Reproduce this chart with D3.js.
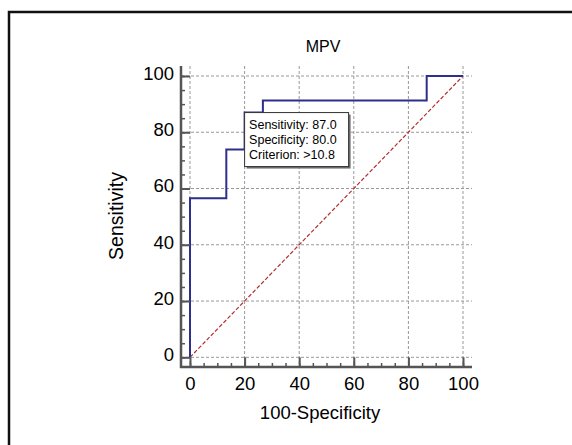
<!DOCTYPE html>
<html>
<head>
<meta charset="utf-8">
<script src="https://cdn.jsdelivr.net/npm/d3@7"></script>
<style>
  body { margin: 0; background: #fff; }
  text { font-family: "Liberation Sans", Arial, sans-serif; fill: #000; }
</style>
</head>
<body>
<svg id="chart"></svg>
<script>
// DATA
let chartTitle = "MPV";
let xLabel = "100-Specificity";
let yLabel = "Sensitivity";
let tickValues = [0, 20, 40, 60, 80, 100];
let minorTickValues = d3.range(0, 101, 5);
// ROC curve vertices (100-specificity, sensitivity)
let rocX = [0, 0, 13.3, 13.3, 20, 20, 26.7, 26.7, 86.7, 86.7, 100];
let rocY = [0, 56.5, 56.5, 73.9, 73.9, 87.0, 87.0, 91.3, 91.3, 100, 100];
let diagonal = [0, 100];
// optimal criterion point and its label
let bestPoint = [20, 87.0];
let bestLabels = ["Sensitivity: 87.0", "Specificity: 80.0", "Criterion: >10.8"];

let width = 572;
let height = 445;

let svg = d3.select("#chart")
  .attr("width", width)
  .attr("height", height);

// outer frame (runs off the right and bottom edges)
svg.append("rect")
  .attr("x", 9).attr("y", 12)
  .attr("width", 640).attr("height", 500)
  .attr("fill", "none")
  .attr("stroke", "#111")
  .attr("stroke-width", 2.5);

let x = d3.scaleLinear().domain([0, 100]).range([190, 463]);
let y = d3.scaleLinear().domain([0, 100]).range([357.3, 76]);

let axisX = 181;   // y axis position
let axisY = 367;   // x axis position
let plotTop = 66;
let plotRight = 472;

// grid
let grid = svg.append("g").attr("class", "grid");
grid.selectAll(".vgrid").data(tickValues).enter()
  .append("line")
  .attr("x1", d => x(d)).attr("x2", d => x(d))
  .attr("y1", plotTop).attr("y2", axisY)
  .attr("stroke", "#999")
  .attr("stroke-width", 1)
  .attr("stroke-dasharray", "3,2");
grid.selectAll(".hgrid").data(tickValues).enter()
  .append("line")
  .attr("x1", axisX).attr("x2", plotRight)
  .attr("y1", d => y(d)).attr("y2", d => y(d))
  .attr("stroke", "#999")
  .attr("stroke-width", 1)
  .attr("stroke-dasharray", "3,2");

// diagonal reference line
svg.append("line")
  .attr("x1", x(diagonal[0])).attr("y1", y(diagonal[0]))
  .attr("x2", x(diagonal[1])).attr("y2", y(diagonal[1]))
  .attr("stroke", "#b03030")
  .attr("stroke-width", 1.2)
  .attr("stroke-dasharray", "4,2");

// ROC curve
let rocPoints = rocX.map((d, i) => [d, rocY[i]]);
svg.append("path")
  .datum(rocPoints)
  .attr("fill", "none")
  .attr("stroke", "#2e2e8c")
  .attr("stroke-width", 2)
  .attr("d", d3.line().x(d => x(d[0])).y(d => y(d[1])));

// minor ticks
let xMinor = d3.axisBottom(x).tickValues(minorTickValues).tickSize(-4).tickFormat("");
let yMinor = d3.axisLeft(y).tickValues(minorTickValues).tickSize(-4).tickFormat("");
svg.append("g").attr("transform", `translate(0,${axisY})`).call(xMinor)
  .call(g => g.select(".domain").remove())
  .selectAll("line").attr("stroke", "#555").attr("stroke-width", 1.5);
svg.append("g").attr("transform", `translate(${axisX},0)`).call(yMinor)
  .call(g => g.select(".domain").remove())
  .selectAll("line").attr("stroke", "#555").attr("stroke-width", 1.5);

// major ticks and labels
let xAxis = d3.axisBottom(x).tickValues(tickValues).tickSize(-(axisY - y(0))).tickPadding(10);
let yAxis = d3.axisLeft(y).tickValues(tickValues).tickSize(-(x(0) - axisX)).tickPadding(7);

let gx = svg.append("g").attr("transform", `translate(0,${axisY})`).call(xAxis);
gx.select(".domain").remove();
gx.selectAll("line").attr("stroke", "#555").attr("stroke-width", 2);
gx.selectAll("text").style("font-size", "18.5px").attr("fill", "#000");

let gy = svg.append("g").attr("transform", `translate(${axisX},0)`).call(yAxis);
gy.select(".domain").remove();
gy.selectAll("line").attr("stroke", "#555").attr("stroke-width", 2);
gy.selectAll("text").style("font-size", "18.5px").attr("fill", "#000").attr("dy", "0.18em");

// axis lines
svg.append("line")
  .attr("x1", axisX).attr("x2", axisX)
  .attr("y1", plotTop).attr("y2", axisY + 1)
  .attr("stroke", "#555").attr("stroke-width", 2.5);
svg.append("line")
  .attr("x1", axisX - 1).attr("x2", plotRight)
  .attr("y1", axisY).attr("y2", axisY)
  .attr("stroke", "#555").attr("stroke-width", 2.5);

// titles
svg.append("text")
  .attr("x", 323).attr("y", 52)
  .attr("text-anchor", "middle")
  .style("font-size", "16px")
  .text(chartTitle);

svg.append("text")
  .attr("x", 320).attr("y", 419)
  .attr("text-anchor", "middle")
  .style("font-size", "18.5px")
  .text(xLabel);

svg.append("text")
  .attr("transform", "translate(123,216) rotate(-90)")
  .attr("text-anchor", "middle")
  .style("font-size", "19.5px")
  .text(yLabel);

// criterion label box anchored at the optimal point
let bx = x(bestPoint[0]);
let by = y(bestPoint[1]);
let boxW = 104;
let boxH = 54;
svg.append("rect")
  .attr("x", bx + 2).attr("y", by + 2)
  .attr("width", boxW).attr("height", boxH)
  .attr("fill", "#6e6e6e");
svg.append("rect")
  .attr("x", bx).attr("y", by)
  .attr("width", boxW).attr("height", boxH)
  .attr("fill", "#fff")
  .attr("stroke", "#333")
  .attr("stroke-width", 1);
svg.append("g").selectAll("text").data(bestLabels).enter()
  .append("text")
  .attr("x", bx + 4.5)
  .attr("y", (d, i) => by + 16 + i * 15)
  .style("font-size", "12.5px")
  .text(d => d);
</script>
</body>
</html>
